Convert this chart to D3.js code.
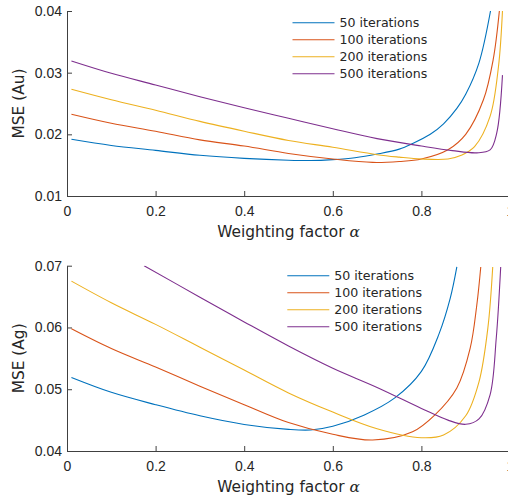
<!DOCTYPE html>
<html>
<head>
<meta charset="utf-8">
<script src="https://cdn.jsdelivr.net/npm/d3@7"></script>
<style>
body { margin: 0; background: #fff; }
svg { display: block; font-family: "DejaVu Sans", sans-serif; }
.axis path, .axis line { stroke: #404040; }
.axis text { fill: #262626; font-size: 14px; }
</style>
</head>
<body>
<div id="chart"></div>
<script>
// alpha / MSE pairs
var seriesNames = ["50 iterations", "100 iterations", "200 iterations", "500 iterations"];
var seriesColors = ["#0072BD", "#D95319", "#EDB120", "#7E2F8E"];
var xTicks = [0, 0.2, 0.4, 0.6, 0.8, 1];

var auTicks = [0.01, 0.02, 0.03, 0.04];
var au50 = [[0.01,0.0192],[0.1,0.0182],[0.2,0.0174],[0.3,0.0166],[0.4,0.0161],[0.5,0.0158],[0.55,0.01575],[0.6,0.0159],[0.65,0.0162],[0.7,0.0168],[0.75,0.0176],[0.78,0.0185],[0.82,0.0200],[0.85,0.0217],[0.88,0.0242],[0.9,0.0265],[0.93,0.0316],[0.956,0.0400]];
var au100 = [[0.01,0.02326],[0.1,0.0218],[0.2,0.0205],[0.3,0.0191],[0.4,0.0181],[0.5,0.0169],[0.6,0.0160],[0.69,0.01545],[0.75,0.0156],[0.8,0.0160],[0.86,0.0175],[0.9,0.0200],[0.94,0.0256],[0.962,0.0321],[0.976,0.0400]];
var au200 = [[0.01,0.0273],[0.1,0.0256],[0.2,0.0239],[0.3,0.0221],[0.4,0.0205],[0.5,0.0190],[0.6,0.0179],[0.7,0.0167],[0.75,0.0163],[0.8,0.0160],[0.86,0.0160],[0.89,0.0166],[0.92,0.0180],[0.955,0.0229],[0.974,0.0310],[0.983,0.0400]];
var au500 = [[0.01,0.0319],[0.1,0.0299],[0.2,0.0280],[0.3,0.0261],[0.4,0.0243],[0.5,0.0226],[0.6,0.0209],[0.7,0.0193],[0.8,0.0181],[0.87,0.01736],[0.925,0.0170],[0.955,0.01747],[0.97,0.0202],[0.983,0.0296]];

var agTicks = [0.04, 0.05, 0.06, 0.07];
var ag50 = [[0.01,0.0519],[0.1,0.0495],[0.2,0.0475],[0.3,0.0457],[0.4,0.0443],[0.5,0.0435],[0.55,0.0434],[0.6,0.0440],[0.67,0.0458],[0.74,0.0486],[0.8,0.0529],[0.84,0.0590],[0.865,0.0647],[0.88,0.0698]];
var ag100 = [[0.01,0.0598],[0.1,0.0566],[0.2,0.0536],[0.3,0.0505],[0.4,0.0475],[0.5,0.0446],[0.6,0.0427],[0.69,0.04178],[0.78,0.0431],[0.83,0.0458],[0.88,0.0502],[0.91,0.0566],[0.925,0.0636],[0.934,0.0698]];
var ag200 = [[0.01,0.0675],[0.1,0.0640],[0.2,0.0605],[0.3,0.0568],[0.4,0.0531],[0.5,0.0494],[0.6,0.0463],[0.7,0.0436],[0.8,0.04215],[0.85,0.04259],[0.9,0.0457],[0.93,0.0512],[0.95,0.0599],[0.961,0.0698]];
var ag500 = [[0.174,0.0700],[0.3,0.0649],[0.4,0.0609],[0.5,0.0570],[0.6,0.0534],[0.7,0.0503],[0.8,0.0469],[0.86,0.0450],[0.9,0.04432],[0.93,0.0452],[0.955,0.0491],[0.969,0.0583],[0.979,0.0698]];

var svg = d3.select("#chart").append("svg").attr("width", 508).attr("height", 498);

function drawPanel(id, top, bottom, yDomain, yTicks, ylabel, data, legendX, legendY) {
    var x = d3.scaleLinear().domain([0, 1]).range([67, 510]);
    var y = d3.scaleLinear().domain(yDomain).range([bottom, top]);
    var g = svg.append("g");

    g.append("clipPath").attr("id", id).append("rect")
        .attr("x", 67).attr("y", top).attr("width", 443).attr("height", bottom - top);

    g.append("g").attr("class", "axis").attr("transform", "translate(0," + bottom + ")")
        .call(d3.axisBottom(x).tickValues(xTicks).tickFormat(d3.format("")).tickSizeInner(-5).tickSizeOuter(0).tickPadding(10));
    g.append("g").attr("class", "axis").attr("transform", "translate(67,0)")
        .call(d3.axisLeft(y).tickValues(yTicks).tickFormat(d3.format(".2f")).tickSizeInner(-5).tickSizeOuter(0).tickPadding(5));

    var line = d3.line().x(function(d){ return x(d[0]); }).y(function(d){ return y(d[1]); }).curve(d3.curveCatmullRom.alpha(0.5));
    data.forEach(function(s, i){
        g.append("path").datum(s).attr("d", line).attr("fill", "none")
            .attr("stroke", seriesColors[i]).attr("stroke-width", 1.1)
            .attr("clip-path", "url(#" + id + ")");
    });

    var xl = g.append("text").attr("x", 288.5).attr("y", bottom + 40.5).attr("text-anchor", "middle")
        .attr("font-size", 15.4).attr("fill", "#262626").text("Weighting factor ");
    xl.append("tspan").attr("font-family", "DejaVu Serif").attr("font-style", "italic").text("α");

    g.append("text").attr("transform", "translate(23.5," + ((top + bottom) / 2) + ") rotate(-90)")
        .attr("text-anchor", "middle").attr("font-size", 15.4).attr("fill", "#262626").text(ylabel);

    seriesNames.forEach(function(name, i){
        var ly = legendY + i * 17;
        g.append("line").attr("x1", legendX).attr("x2", legendX + 42).attr("y1", ly).attr("y2", ly)
            .attr("stroke", seriesColors[i]).attr("stroke-width", 1.1);
        g.append("text").attr("x", legendX + 47).attr("y", ly + 4.6).attr("font-size", 12.6)
            .attr("fill", "#262626").text(name);
    });
}

drawPanel("clipAu", 11, 196, [0.01, 0.04], auTicks, "MSE (Au)", [au50, au100, au200, au500], 292.5, 22.7);
drawPanel("clipAg", 265.7, 451, [0.04, 0.07], agTicks, "MSE (Ag)", [ag50, ag100, ag200, ag500], 287.3, 275.7);
</script>
</body>
</html>
